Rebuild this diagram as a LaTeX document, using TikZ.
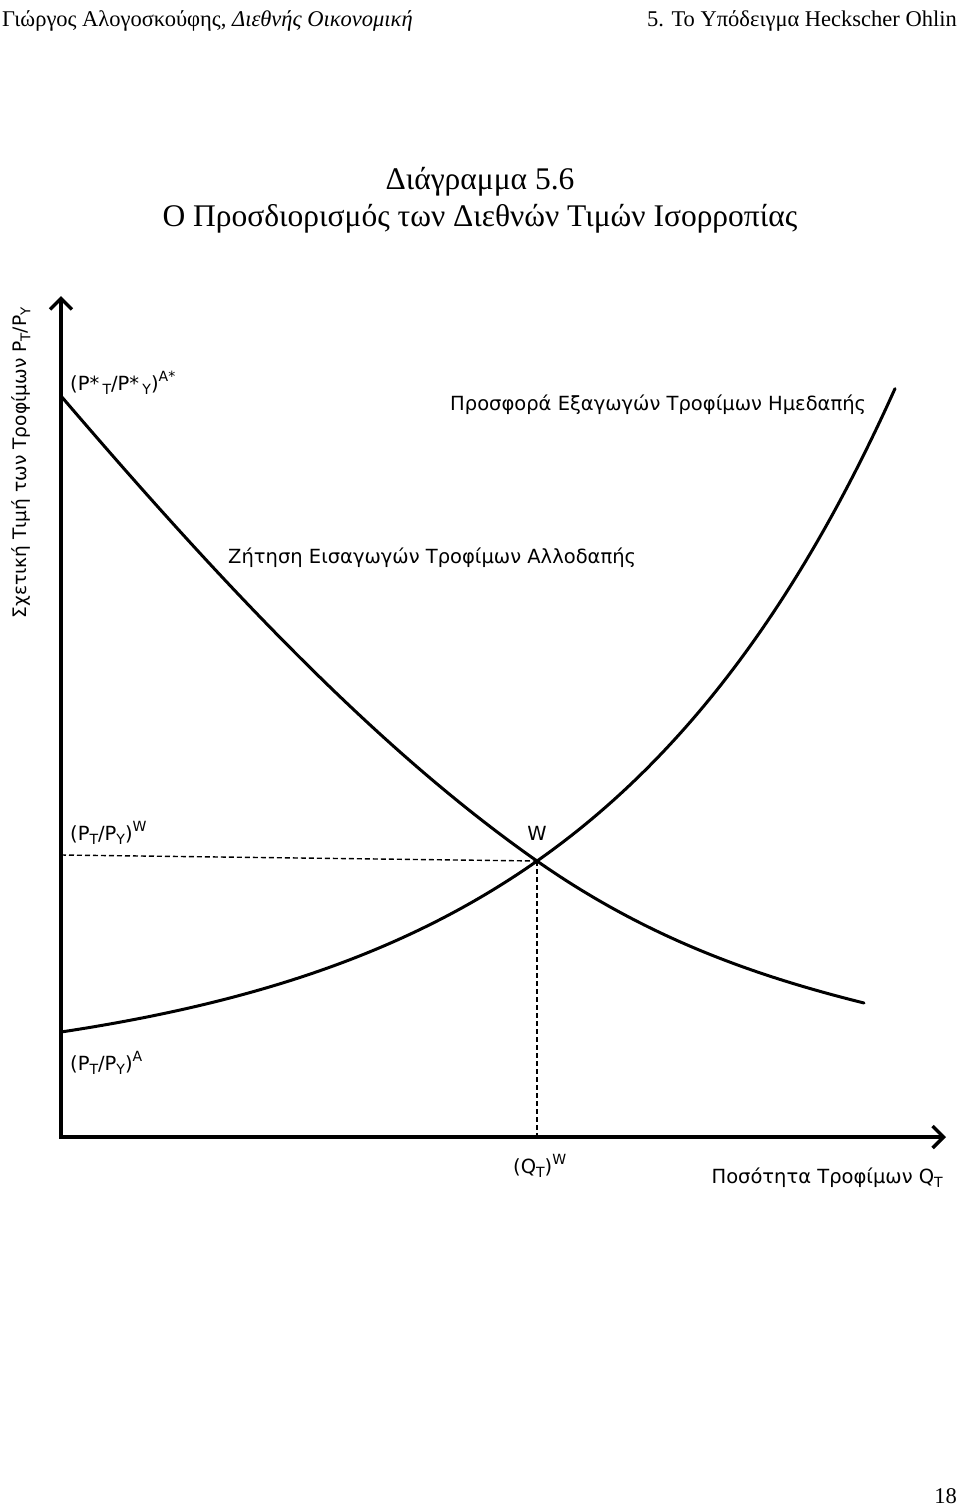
\documentclass[tikz,border=0pt]{standalone}
\usepackage{fontspec}
\usepackage{graphicx}
\setmainfont{Liberation Serif}
\newfontfamily\lblfont{DejaVu Sans}
\usetikzlibrary{arrows.meta}
\newcommand\lo[1]{\raisebox{-0.4ex}{\scalebox{0.72}{#1}}}
\newcommand\hi[1]{\raisebox{0.85ex}{\scalebox{0.72}{#1}}}
\begin{document}
\begin{tikzpicture}[x=1pt,y=-1pt,
 lbl/.style={font=\lblfont\fontsize{19.5}{22}\selectfont, inner sep=0pt},
 ylbl/.style={font=\lblfont\fontsize{18.6}{21}\selectfont, inner sep=0pt},
 hdr/.style={font=\fontsize{22.5}{24}\selectfont, inner sep=0pt},
 ttl/.style={font=\fontsize{31.5}{34}\selectfont, inner sep=0pt},
 axisline/.style={line width=3.5pt, line join=miter,
   {Straight Barb[length=11pt,width=22pt]}-{Straight Barb[length=11pt,width=22pt]}},
 curveline/.style={line width=3pt, line cap=round},
 guide/.style={line width=1.4pt, dash pattern=on 5pt off 3pt}]
\useasboundingbox (0,0) rectangle (960,1509);
\fill[white] (0,0) rectangle (960,1509);

% header
\node[hdr, anchor=base west] (hl) at (2,27) {Γιώργος Αλογοσκούφης, \textit{Διεθνής Οικονομική}};
\node[hdr, anchor=base east] (hr) at (957,27) {5. Το Υπόδειγμα Heckscher Ohlin};
% title
\node[ttl, anchor=base] (t1) at (480,189) {Διάγραμμα 5.6};
\node[ttl, anchor=base] (t2) at (480,226) {Ο Προσδιορισμός των Διεθνών Τιμών Ισορροπίας};
% page number
\node[hdr, anchor=base east] (pg) at (957,1503) {18};

% axes
\coordinate (O) at (61,1137);
\coordinate (Ytop) at (61,296);
\coordinate (Xend) at (946,1137);
\draw[axisline] (Ytop) -- (O) -- (Xend);

% equilibrium
\coordinate (W) at (537,861);
\coordinate (Wy) at (61,855);
\draw[guide] (Wy) -- (W);
\draw[guide] (W) -- (W |- O);

% demand (foreign import demand)
\coordinate (D0) at (61,396);
\coordinate (D1) at (864,1003);
\draw[curveline] (D0) .. controls (221,583) and (377,749) .. (W)
  .. controls (647,938) and (754,975.5) .. (D1);
% supply (home export supply)
\draw[curveline] plot[domain=61:895, samples=120, smooth]
  (\x, {1032-47.1*(exp(0.00322*(\x-61))-1)});

% labels
\node[ylbl, rotate=90] (ylab) at (21,463) {Σχετική Τιμή των Τροφίμων P\lo{T}/P\lo{Y}};
\node[lbl, anchor=west] (pa) at (70,383) {(P*\,\lo{T}/P*\,\lo{Y})\hi{A*}};
\node[lbl, anchor=west] (sup) at (450,405) {Προσφορά Εξαγωγών Τροφίμων Ημεδαπής};
\node[lbl, anchor=west] (dem) at (228,558) {Ζήτηση Εισαγωγών Τροφίμων Αλλοδαπής};
\node[lbl, anchor=west] (pw) at (70,833) {(P\lo{T}/P\lo{Y})\hi{W}};
\node[lbl] (wl) at (537,833) {W};
\node[lbl, anchor=west] (pA) at (70,1063) {(P\lo{T}/P\lo{Y})\hi{A}};
\node[lbl, anchor=west] (qw) at (513,1166) {(Q\lo{T})\hi{W}};
\node[lbl, anchor=east] (xlab) at (943,1178) {Ποσότητα Τροφίμων Q\lo{T}};
\end{tikzpicture}
\end{document}
